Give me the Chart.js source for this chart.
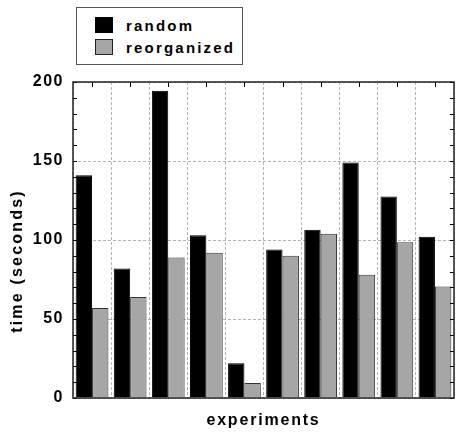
<!DOCTYPE html>
<html>
<head>
<meta charset="utf-8">
<script src="https://cdn.jsdelivr.net/npm/chart.js@4.4.1/dist/chart.umd.min.js"></script>
<style>
  html, body { margin: 0; padding: 0; background: #fff; }
  #wrap { position: relative; width: 456px; height: 433px; }
  #legend {
    position: absolute; left: 76px; top: 7px; width: 167px; height: 58px;
    border: 1px solid #555; background: #fff; box-sizing: border-box;
    font-family: "Liberation Sans", Arial, sans-serif; font-weight: bold;
    font-size: 15px; letter-spacing: 2.2px; color: #000;
  }
  .row { position: absolute; left: 0; height: 16px; }
  .sw { position: absolute; left: 18px; width: 18px; height: 16px; box-sizing: border-box; }
  .lbl { position: absolute; left: 49px; top: 0px; white-space: nowrap; line-height: 17px; }
</style>
</head>
<body>
<div id="wrap">
  <canvas id="c" width="456" height="433"></canvas>
  <div id="legend">
    <div class="row" style="top:9px"><div class="sw" style="background:#000;border:1px solid #000"></div><div class="lbl">random</div></div>
    <div class="row" style="top:31px"><div class="sw" style="background:#a6a6a6;border:1px solid #222"></div><div class="lbl">reorganized</div></div>
  </div>
</div>
<script>
const categories = ["1", "2", "3", "4", "5", "6", "7", "8", "9", "10"];
const randomTimes = [141, 82, 194.5, 103, 22, 94, 106.5, 149, 127.5, 102];
const reorganizedTimes = [57, 64, 89, 92, 9.5, 90, 104, 78, 98.5, 70.5];
const yTicks = [0, 50, 100, 150, 200];
const yTitle = "time (seconds)";
const xTitle = "experiments";

const FONT = '"Liberation Sans", Arial, sans-serif';

const framePlugin = {
  id: 'frame',
  beforeDraw(chart) {
    chart.ctx.letterSpacing = '1.5px';
  },
  afterDatasetsDraw(chart) {
    const ctx = chart.ctx;
    const a = chart.chartArea;
    const y = chart.scales.y, x = chart.scales.x;
    ctx.save();
    ctx.letterSpacing = '0px';
    ctx.strokeStyle = '#000';
    ctx.lineWidth = 1;
    ctx.beginPath();
    for (let v = 0; v <= 200; v += 10) {
      const py = Math.round(y.getPixelForValue(v)) + 0.5;
      ctx.moveTo(a.left, py); ctx.lineTo(a.left + 4, py);
      ctx.moveTo(a.right, py); ctx.lineTo(a.right - 4, py);
    }
    for (let i = 0; i < categories.length; i++) {
      const px = Math.round(x.getPixelForValue(i)) + 0.5;
      ctx.moveTo(px, a.top); ctx.lineTo(px, a.top + 5);
    }
    ctx.stroke();
    ctx.lineWidth = 1.5;
    ctx.strokeStyle = '#222';
    ctx.strokeRect(a.left, a.top, a.right - a.left, a.bottom - a.top);
    ctx.restore();
  },
  afterDraw(chart) {
    const ctx = chart.ctx;
    const a = chart.chartArea;
    ctx.save();
    ctx.fillStyle = '#000';
    ctx.font = 'bold 16px ' + FONT;
    ctx.letterSpacing = '1.8px';
    ctx.textAlign = 'center';
    ctx.textBaseline = 'middle';
    ctx.fillText(xTitle, (a.left + a.right) / 2, 421);
    ctx.letterSpacing = '2.2px';
    ctx.translate(18, a.bottom - 137);
    ctx.rotate(-Math.PI / 2);
    ctx.fillText(yTitle, 0, 0);
    ctx.restore();
  }
};

new Chart(document.getElementById('c'), {
  type: 'bar',
  data: {
    labels: categories,
    datasets: [
      { label: 'random', data: randomTimes, backgroundColor: '#000', borderColor: '#000', borderWidth: 1 },
      { label: 'reorganized', data: reorganizedTimes, backgroundColor: '#a6a6a6', borderColor: '#333', borderWidth: 1 }
    ]
  },
  options: {
    responsive: false,
    animation: false,
    devicePixelRatio: 1,
    layout: { padding: { top: 82, right: 2, left: 0, bottom: 0 } },
    plugins: { legend: { display: false }, tooltip: { enabled: false } },
    datasets: { bar: { categoryPercentage: 0.86, barPercentage: 1.0 } },
    scales: {
      x: {
        ticks: { display: false },
        grid: { offset: true, drawTicks: false, color: '#b4b4b4', lineWidth: 1 },
        border: { display: false, dash: [3, 2] },
        afterFit(s) { s.height = 35; }
      },
      y: {
        min: 0, max: 200,
        afterBuildTicks(s) { s.ticks = yTicks.map(v => ({ value: v })); },
        ticks: { color: '#000', padding: 9, font: { family: FONT, weight: 'bold', size: 16 } },
        grid: { drawTicks: false, color: '#b4b4b4', lineWidth: 1 },
        border: { display: false, dash: [3, 2] },
        afterFit(s) { s.width = 73; }
      }
    }
  },
  plugins: [framePlugin]
});
</script>
</body>
</html>
